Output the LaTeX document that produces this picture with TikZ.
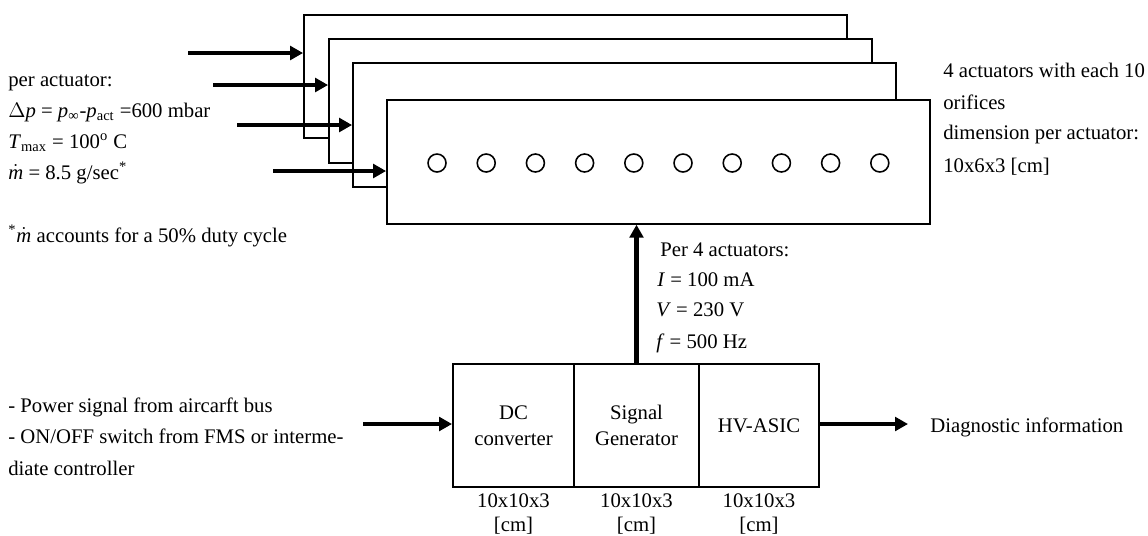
\documentclass[tikz,border=0pt]{standalone}
\usepackage{fontspec}
\setmainfont{Liberation Serif}
\usetikzlibrary{arrows.meta,positioning}

\tikzset{
  actbox/.style={draw,line width=1.1pt,fill=white,minimum width=10.86cm,minimum height=2.47cm,inner sep=0pt},
  unitbox/.style={draw,line width=1.1pt,minimum height=2.46cm,align=center,inner sep=0pt},
  fatarrow/.style={line width=2.7pt,-{Triangle[length=7.4pt,width=7.8pt]}},
  txt/.style={anchor=base west,inner sep=0pt},
  dimtxt/.style={align=center,inner sep=0pt,font=\fontsize{11.8}{13.6}\selectfont}
}

\begin{document}
\begin{tikzpicture}[x=0.02cm,y=-0.02cm,font=\fontsize{11.8}{14.8}\selectfont]
\useasboundingbox (0,0) rectangle (1148,535);

% stacked actuators, back to front
\node[actbox] (act1) at (575.5,76.5) {};
\node[actbox] (act2) at (600.5,101) {};
\node[actbox] (act3) at (624.5,125) {};
\node[actbox] (act4) at (658.5,162) {};

% orifices
\foreach \i in {0,...,9}
  \draw[line width=0.9pt] (437+49.2*\i,163) circle (0.18cm);

% air supply
\coordinate (in1) at (188,53);
\coordinate (in2) at (213,85);
\coordinate (in3) at (237,125);
\coordinate (in4) at (273,171);
\draw[fatarrow] (in1) -- (in1 -| act1.west);
\draw[fatarrow] (in2) -- (in2 -| act2.west);
\draw[fatarrow] (in3) -- (in3 -| act3.west);
\draw[fatarrow] (in4) -- (in4 -| act4.west);

\node[txt] (pa1) at (8,86) {per actuator:};
\node[txt] (pa2) at (8,117) {$\Delta$\textit{p} = \textit{p}\textsubscript{∞}-\textit{p}\textsubscript{act} =600 mbar};
\node[txt] (pa3) at (8,148) {\textit{T}\textsubscript{max} = 100\textsuperscript{o} C};
\node[txt] (pa4) at (8,179) {$\dot{\mbox{\textit{m}}}$ = 8.5 g/sec\textsuperscript{*}};
\node[txt] (fn) at (8,242) {\textsuperscript{*}$\dot{\mbox{\textit{m}}}$ accounts for a 50\% duty cycle};

\node[txt] (ac1) at (943,77) {4 actuators with each 10};
\node[txt] (ac2) at (943,109) {orifices};
\node[txt] (ac3) at (943,139) {dimension per actuator:};
\node[txt] (ac4) at (943,172) {10x6x3 [cm]};

% electronics
\node[unitbox,minimum width=2.42cm] (dc) at (513.5,425.5) {DC\\converter};
\node[unitbox,minimum width=2.5cm] (sig) at (636.5,425.5) {Signal\\Generator};
\node[unitbox,minimum width=2.4cm] (hv) at (759,425.5) {HV-ASIC};

\node[dimtxt,below=3pt of dc] (dcdim) {10x10x3\\{[cm]}};
\node[dimtxt,below=3pt of sig] (sigdim) {10x10x3\\{[cm]}};
\node[dimtxt,below=3pt of hv] (hvdim) {10x10x3\\{[cm]}};

\draw[fatarrow] (sig.north) -- (sig.north |- act4.south);
\node[txt] (pw1) at (660,256) {Per 4 actuators:};
\node[txt] (pw2) at (657,286) {\textit{I} = 100 mA};
\node[txt] (pw3) at (656,316) {\textit{V} = 230 V};
\node[txt] (pw4) at (656,348) {\textit{f} = 500 Hz};

\coordinate (pin) at (363,424);
\draw[fatarrow] (pin) -- (pin -| dc.west);
\node[txt] (in1t) at (8,412) {- Power signal from aircarft bus};
\node[txt] (in2t) at (8,443) {- ON/OFF switch from FMS or interme-};
\node[txt] (in3t) at (8,475) {diate controller};

\coordinate (dout) at (908,424);
\draw[fatarrow] (dout -| hv.east) -- (dout);
\node[txt] (diag) at (930,432) {Diagnostic information};

\end{tikzpicture}
\end{document}
